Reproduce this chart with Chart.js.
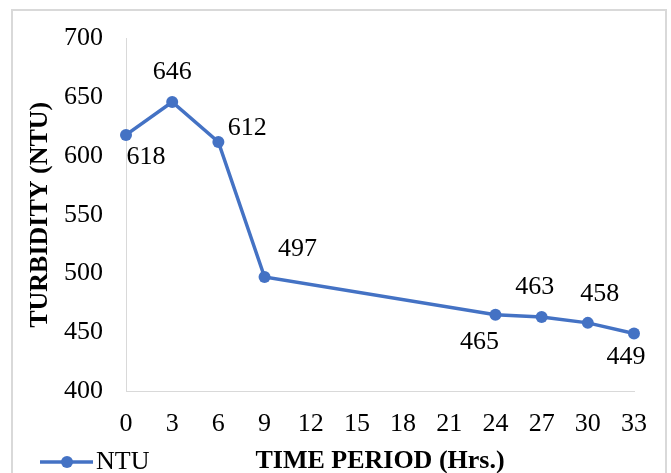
<!DOCTYPE html>
<html>
<head>
<meta charset="utf-8">
<title>Turbidity over time</title>
<script src="https://cdn.jsdelivr.net/npm/chart.js@4/dist/chart.umd.min.js"></script>
<style>
    html, body { margin: 0; padding: 0; background: #fff; }
    canvas { display: block; }
</style>
</head>
<body>
<canvas id="turbidity" width="671" height="473"></canvas>
<script>
// readings: time in hours and turbidity in NTU
const hours = [0, 3, 6, 9, 24, 27, 30, 33];
const ntu = [618, 646, 612, 497, 465, 463, 458, 449];
const hourTicks = [0, 3, 6, 9, 12, 15, 18, 21, 24, 27, 30, 33];
const seriesName = 'NTU';

const lineColor = '#4472C4';
const serif = "'Liberation Serif', 'Times New Roman', serif";

// where each value label sits relative to its point (text centre)
const labelOffsets = [[20, 22], [0, -30], [29, -14], [33, -28], [-16, 28], [-7, -30], [12, -29], [-8, 24]];

const frame = {
    id: 'frame',
    beforeDraw(chart) {
        let ctx = chart.ctx;
        ctx.save();
        ctx.fillStyle = '#fff';
        ctx.fillRect(0, 0, chart.width, chart.height);
        ctx.strokeStyle = '#d9d9d9';
        ctx.lineWidth = 2;
        ctx.strokeRect(12, 10, 654, 500);
        ctx.restore();
    }
};

const valueLabels = {
    id: 'valueLabels',
    afterDatasetsDraw(chart) {
        let ctx = chart.ctx;
        let points = chart.getDatasetMeta(0).data;
        ctx.save();
        ctx.font = '26px ' + serif;
        ctx.fillStyle = '#000';
        ctx.textAlign = 'center';
        ctx.textBaseline = 'middle';
        points.forEach((pt, i) => {
            let off = labelOffsets[i];
            ctx.fillText(String(ntu[i]), pt.x + off[0], pt.y + off[1]);
        });
        ctx.restore();
    }
};

// legend entry shares the bottom row with the x axis title
const legendRow = {
    id: 'legendRow',
    afterDraw(chart) {
        let ctx = chart.ctx;
        let y = 462;
        ctx.save();
        ctx.strokeStyle = lineColor;
        ctx.lineWidth = 3.5;
        ctx.beginPath();
        ctx.moveTo(40, y);
        ctx.lineTo(93, y);
        ctx.stroke();
        ctx.fillStyle = lineColor;
        ctx.beginPath();
        ctx.arc(67, y, 6, 0, Math.PI * 2);
        ctx.fill();
        ctx.fillStyle = '#000';
        ctx.font = '26px ' + serif;
        ctx.textAlign = 'left';
        ctx.textBaseline = 'middle';
        ctx.fillText(seriesName, 96, y);
        ctx.restore();
    }
};

const chart = new Chart(document.getElementById('turbidity'), {
    type: 'line',
    data: {
        datasets: [{
            label: seriesName,
            data: hours.map((h, i) => ({ x: h, y: ntu[i] })),
            borderColor: lineColor,
            backgroundColor: lineColor,
            borderWidth: 3.5,
            pointRadius: 6,
            pointBorderWidth: 0,
            tension: 0,
            clip: false,
        }]
    },
    options: {
        responsive: false,
        devicePixelRatio: 1,
        animation: false,
        layout: { padding: { top: 34, right: 37, bottom: 0, left: 0 } },
        scales: {
            x: {
                type: 'linear',
                min: 0,
                max: 33,
                afterBuildTicks: (scale) => { scale.ticks = hourTicks.map(v => ({ value: v })); },
                afterFit: (scale) => { scale.height = 82; },
                grid: { display: false, drawTicks: false },
                border: { display: true, color: '#d9d9d9', width: 1 },
                ticks: { color: '#000', font: { family: serif, size: 26 }, padding: 18, maxRotation: 0, autoSkip: false },
                title: {
                    display: true,
                    text: 'TIME PERIOD (Hrs.)',
                    color: '#000',
                    font: { family: serif, size: 26, weight: 'bold', lineHeight: 1 },
                    padding: { top: 0, bottom: -1 },
                },
            },
            y: {
                min: 400,
                max: 700,
                afterFit: (scale) => { scale.width = 126; },
                grid: { display: false, drawTicks: false },
                border: { display: true, color: '#d9d9d9', width: 1 },
                ticks: { stepSize: 50, color: '#000', font: { family: serif, size: 26 }, padding: 23 },
                title: {
                    display: true,
                    text: 'TURBIDITY (NTU)',
                    color: '#000',
                    font: { family: serif, size: 26, weight: 'bold', lineHeight: 1 },
                    padding: { top: 27, bottom: 0 },
                },
            },
        },
        plugins: {
            legend: { display: false },
            tooltip: { enabled: false },
        },
    },
    plugins: [frame, valueLabels, legendRow],
});
</script>
</body>
</html>
